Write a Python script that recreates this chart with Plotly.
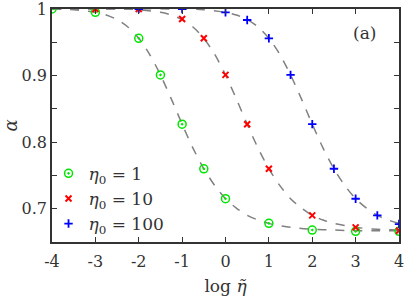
import plotly.graph_objects as go

# data points
x_g = [-4, -3, -2, -1.5, -1, -0.5, 0, 1, 2, 3, 4]
y_g = [1.0, 0.995, 0.956, 0.901, 0.827, 0.760, 0.715, 0.678, 0.668, 0.666, 0.666]

x_r = [-3, -2, -1, -0.5, 0, 0.5, 1, 2, 3, 4]
y_r = [1.0, 1.0, 0.985, 0.956, 0.901, 0.827, 0.760, 0.690, 0.672, 0.667]

x_b = [-2, -1, 0, 0.5, 1, 1.5, 2, 2.5, 3, 3.5, 4]
y_b = [1.0, 1.0, 0.995, 0.9835, 0.956, 0.901, 0.827, 0.760, 0.715, 0.690, 0.677]

# dashed theory curves
cx_g = [-4, -3.5, -3, -2.75, -2.5, -2.25, -2, -1.75, -1.5, -1.25, -1, -0.75, -0.5, -0.25,
        0, 0.25, 0.5, 0.75, 1, 1.5, 2, 2.5, 3, 4]
cy_g = [1.0, 0.999, 0.995, 0.991, 0.984, 0.973, 0.956, 0.932, 0.901, 0.865, 0.827, 0.791,
        0.760, 0.735, 0.715, 0.701, 0.690, 0.683, 0.678, 0.672, 0.669, 0.668, 0.667, 0.667]

cx_r = [-4, -2.5, -2, -1.5, -1.25, -1, -0.75, -0.5, -0.25, 0, 0.25, 0.5, 0.75, 1, 1.25,
        1.5, 1.75, 2, 2.25, 2.5, 3, 3.5, 4]
cy_r = [1.0, 1.0, 0.999, 0.995, 0.991, 0.984, 0.973, 0.956, 0.932, 0.901, 0.865, 0.827,
        0.791, 0.760, 0.735, 0.715, 0.701, 0.690, 0.683, 0.678, 0.672, 0.669, 0.668]

cx_b = [-4, -1, -0.5, 0, 0.25, 0.5, 0.75, 1, 1.25, 1.5, 1.75, 2, 2.25, 2.5, 2.75, 3,
        3.25, 3.5, 3.75, 4]
cy_b = [1.0, 1.0, 0.999, 0.995, 0.991, 0.984, 0.973, 0.956, 0.932, 0.901, 0.865, 0.827,
        0.791, 0.760, 0.735, 0.715, 0.701, 0.690, 0.683, 0.678]

x_ticks = [-4, -3, -2, -1, 0, 1, 2, 3, 4]
x_ticklabels = ["-4", "-3", "-2", "-1", "0", "1", "2", "3", "4"]
y_ticks = [0.7, 0.8, 0.9, 1.0]
y_ticklabels = ["0.7", "0.8", "0.9", "1"]

GREEN = "#00e600"
RED = "#ff0000"
BLUE = "#0000ff"
DASH = "#808080"
FONT = "DejaVu Serif"
INK = "#333333"

fig = go.Figure()

for cx, cy in [(cx_g, cy_g), (cx_r, cy_r), (cx_b, cy_b)]:
    fig.add_trace(go.Scatter(x=cx, y=cy, mode="lines", showlegend=False,
                             line=dict(color=DASH, width=1.5, dash="dash", shape="spline", smoothing=0.8),
                             hoverinfo="skip"))

fig.add_trace(go.Scatter(x=x_g, y=y_g, mode="markers", name="<i>η</i><sub>0</sub> = 1",
                         marker=dict(symbol="circle-open-dot", size=8, color=GREEN, line=dict(width=1.5, color=GREEN))))
fig.add_trace(go.Scatter(x=x_r, y=y_r, mode="markers", name="<i>η</i><sub>0</sub> = 10",
                         marker=dict(symbol="x-thin", size=6, color=RED, line=dict(width=2, color=RED))))
fig.add_trace(go.Scatter(x=x_b, y=y_b, mode="markers", name="<i>η</i><sub>0</sub> = 100",
                         marker=dict(symbol="cross-thin", size=6, color=BLUE, line=dict(width=1.8, color=BLUE))))

fig.update_layout(
    width=407, height=296,
    margin=dict(l=52, r=8, t=9, b=54, autoexpand=False),
    paper_bgcolor="white", plot_bgcolor="white",
    font=dict(family=FONT, size=16, color=INK),
    showlegend=True,
    legend=dict(x=-0.01, y=0.37, xanchor="left", yanchor="top", bgcolor="rgba(0,0,0,0)",
                font=dict(family=FONT, size=17, color=INK), tracegroupgap=0,
                itemwidth=30),
    xaxis=dict(range=[-4, 4], tickmode="array", tickvals=x_ticks, ticktext=x_ticklabels,
               ticks="inside", ticklen=5, tickcolor=INK, showline=True, linecolor=INK,
               linewidth=1.5, mirror="ticks", showgrid=False, zeroline=False, automargin=False,
               ticklabeloverflow="allow", ticklabelstandoff=4,
               title=dict(text="log <i>η̃</i>", font=dict(family=FONT, size=17), standoff=10)),
    yaxis=dict(range=[0.65, 1.0], tickmode="array", tickvals=y_ticks, ticktext=y_ticklabels,
               ticks="inside", ticklen=5, tickcolor=INK, showline=True, linecolor=INK,
               linewidth=1.5, mirror="ticks", showgrid=False, zeroline=False, automargin=False,
               ticklabeloverflow="allow",
               minor=dict(ticks="inside", ticklen=5, dtick=0.05, tick0=0.65, tickcolor=INK, showgrid=False),
               title=dict(text="<i>α</i>", font=dict(family=FONT, size=18), standoff=6)),
    annotations=[dict(text="(a)", x=0.902, y=0.897, xref="paper", yref="paper", showarrow=False,
                      xanchor="center", yanchor="middle",
                      font=dict(family=FONT, size=17, color=INK))],
)

fig.write_html("out.html", config={"displayModeBar": False},
               post_script="document.body.style.margin='0';document.body.style.padding='0';")
